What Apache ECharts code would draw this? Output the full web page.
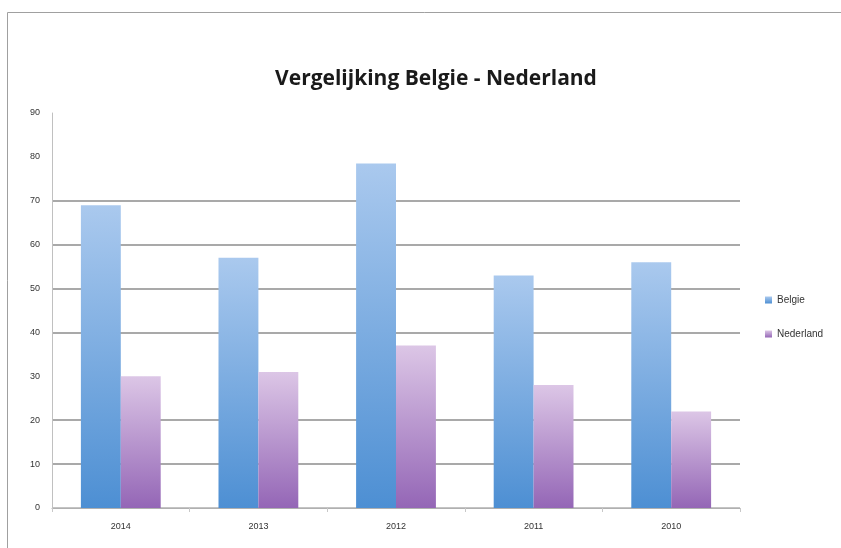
<!DOCTYPE html>
<html>
<head>
<meta charset="utf-8">
<script src="https://cdn.jsdelivr.net/npm/echarts@6/dist/echarts.min.js"></script>
<style>html,body{margin:0;padding:0;background:#fff}#c{width:841px;height:548px}</style>
</head>
<body>
<div id="c"></div>
<script>
var categories = ['2014', '2013', '2012', '2011', '2010'];
var belgie = [69, 57, 78.5, 53, 56];
var nederland = [30, 31, 37, 28, 22];
var yTicks = [0, 10, 20, 30, 40, 50, 60, 70, 80, 90];

var chart = echarts.init(document.getElementById('c'));
function grad(top, bottom) {
  return new echarts.graphic.LinearGradient(0, 0, 0, 1, [
    {offset: 0, color: top}, {offset: 1, color: bottom}
  ]);
}
var g = '#8c8c8c';
chart.setOption({
  animation: false,
  backgroundColor: '#fff',
  graphic: [{
    type: 'rect', shape: {x: 7.5, y: 12.5, width: 900, height: 600},
    style: {fill: 'none', stroke: '#a0a0a0', lineWidth: 1}, silent: true
  }],
  title: {
    text: 'Vergelijking Belgie - Nederland',
    left: 431, textAlign: 'center', top: 64,
    textStyle: {fontFamily: 'Open Sans', fontWeight: 'bold', fontSize: 21, color: '#1a1a1a'}
  },
  legend: {
    orient: 'vertical', left: 760, top: 290, itemGap: 24,
    itemWidth: 7, itemHeight: 7, icon: 'rect',
    textStyle: {fontFamily: 'Liberation Sans', fontSize: 10, color: '#333'},
    data: ['Belgie', 'Nederland']
  },
  grid: {left: 52, right: 101, top: 113, bottom: 40},
  xAxis: {
    type: 'category', data: categories,
    axisLine: {lineStyle: {color: '#b0b0b0'}},
    axisTick: {show: true, alignWithLabel: false, length: 4, lineStyle: {color: '#c8c8c8'}},
    axisLabel: {fontFamily: 'Liberation Sans', fontSize: 9, color: '#333', margin: 14}
  },
  yAxis: {
    type: 'value', min: 0, max: 90, interval: 10,
    axisLine: {show: true, lineStyle: {color: '#c0c0c0'}},
    axisTick: {show: false},
    axisLabel: {fontFamily: 'Liberation Sans', fontSize: 9, color: '#333', margin: 12,
      formatter: function (v) { return yTicks.indexOf(v) >= 0 ? String(v) : ''; }},
    splitLine: {show: true, lineStyle: {width: 1.5,
      color: ['#b0b0b0', g, g, 'rgba(0,0,0,0)', g, g, g, g, 'rgba(0,0,0,0)', 'rgba(0,0,0,0)']}}
  },
  series: [{
    name: 'Belgie', type: 'bar', data: belgie,
    barGap: '0%', barCategoryGap: '42%',
    itemStyle: {color: grad('#aac9ee', '#4d8fd3')}
  }, {
    name: 'Nederland', type: 'bar', data: nederland,
    itemStyle: {color: grad('#dcc6e6', '#9466b6')}
  }]
});
</script>
</body>
</html>
